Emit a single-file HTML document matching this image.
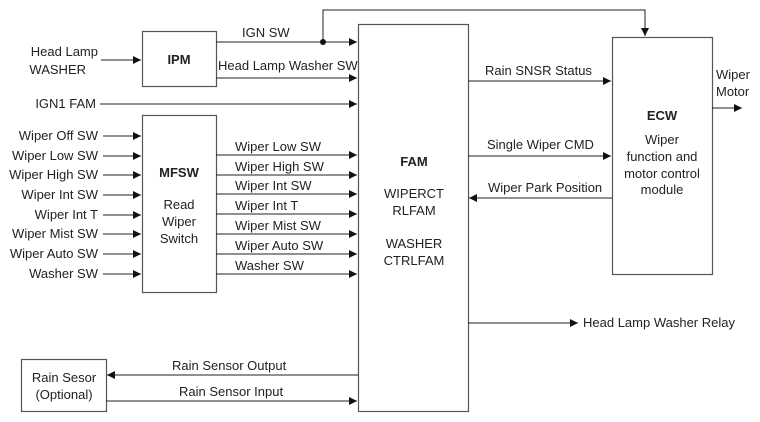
<!DOCTYPE html>
<html><head><meta charset="utf-8"><style>
html,body{margin:0;padding:0;background:#fff;}
svg{display:block;}
text{font-family:"Liberation Sans",sans-serif;font-size:13px;fill:#222;}
.b{font-weight:bold;}
</style></head><body>
<svg width="760" height="422" viewBox="0 0 760 422" xmlns="http://www.w3.org/2000/svg">
<defs><marker id="a" markerWidth="8" markerHeight="8" refX="8" refY="4" orient="auto" markerUnits="userSpaceOnUse"><path d="M0,0 L8,4 L0,8z" fill="#111"/></marker></defs>
<g fill="none" stroke="#555" stroke-width="1.2">
<rect x="142.5" y="31.5" width="74" height="55"/>
<rect x="142.5" y="115.5" width="74" height="177"/>
<rect x="358.5" y="24.5" width="110" height="387"/>
<rect x="612.5" y="37.5" width="100" height="237"/>
<rect x="21.5" y="359.5" width="85" height="52"/>
</g>
<g stroke="#222" stroke-width="1" fill="none" marker-end="url(#a)">
<path d="M216 42H357"/>
<path d="M323 42V10H645V36"/>
<path d="M216 78H357"/>
<path d="M101 60H141"/>
<path d="M100 104H357"/>
<path d="M103 136H141"/><path d="M103 156H141"/><path d="M103 175H141"/><path d="M103 195H141"/>
<path d="M103 215H141"/><path d="M103 234H141"/><path d="M103 254H141"/><path d="M103 274H141"/>
<path d="M216 155H357"/><path d="M216 175H357"/><path d="M216 194H357"/><path d="M216 214H357"/>
<path d="M216 234H357"/><path d="M216 254H357"/><path d="M216 274H357"/>
<path d="M468 81H611"/>
<path d="M468 156H611"/>
<path d="M612 198H469"/>
<path d="M712 108H742"/>
<path d="M468 323H578"/>
<path d="M358 375H107"/>
<path d="M106 401H357"/>
</g>
<circle cx="323" cy="42" r="3" fill="#111"/>
<text x="242" y="37">IGN SW</text>
<text x="218" y="70">Head Lamp Washer SW</text>
<text x="98" y="56" text-anchor="end">Head Lamp</text>
<text x="86" y="74" text-anchor="end">WASHER</text>
<text x="179" y="64" text-anchor="middle" class="b">IPM</text>
<text x="96" y="108" text-anchor="end">IGN1 FAM</text>
<text x="98" y="140" text-anchor="end">Wiper Off SW</text>
<text x="98" y="160" text-anchor="end">Wiper Low SW</text>
<text x="98" y="179" text-anchor="end">Wiper High SW</text>
<text x="98" y="199" text-anchor="end">Wiper Int SW</text>
<text x="98" y="219" text-anchor="end">Wiper Int T</text>
<text x="98" y="238" text-anchor="end">Wiper Mist SW</text>
<text x="98" y="258" text-anchor="end">Wiper Auto SW</text>
<text x="98" y="278" text-anchor="end">Washer SW</text>
<text x="179" y="177" text-anchor="middle" class="b">MFSW</text>
<text x="179" y="209" text-anchor="middle">Read</text>
<text x="179" y="226" text-anchor="middle">Wiper</text>
<text x="179" y="243" text-anchor="middle">Switch</text>
<text x="235" y="151">Wiper Low SW</text>
<text x="235" y="171">Wiper High SW</text>
<text x="235" y="190">Wiper Int SW</text>
<text x="235" y="210">Wiper Int T</text>
<text x="235" y="230">Wiper Mist SW</text>
<text x="235" y="250">Wiper Auto SW</text>
<text x="235" y="270">Washer SW</text>
<text x="414" y="166" text-anchor="middle" class="b">FAM</text>
<text x="414" y="198" text-anchor="middle">WIPERCT</text>
<text x="414" y="215" text-anchor="middle">RLFAM</text>
<text x="414" y="248" text-anchor="middle">WASHER</text>
<text x="414" y="265" text-anchor="middle">CTRLFAM</text>
<text x="485" y="75">Rain SNSR Status</text>
<text x="487" y="149">Single Wiper CMD</text>
<text x="488" y="192">Wiper Park Position</text>
<text x="662" y="120" text-anchor="middle" class="b">ECW</text>
<text x="662" y="144" text-anchor="middle">Wiper</text>
<text x="662" y="161" text-anchor="middle">function and</text>
<text x="662" y="178" text-anchor="middle">motor control</text>
<text x="662" y="194" text-anchor="middle">module</text>
<text x="716" y="79">Wiper</text>
<text x="716" y="96">Motor</text>
<text x="583" y="327">Head Lamp Washer Relay</text>
<text x="64" y="382" text-anchor="middle">Rain Sesor</text>
<text x="64" y="399" text-anchor="middle">(Optional)</text>
<text x="172" y="370">Rain Sensor Output</text>
<text x="179" y="396">Rain Sensor Input</text>
</svg>
</body></html>
